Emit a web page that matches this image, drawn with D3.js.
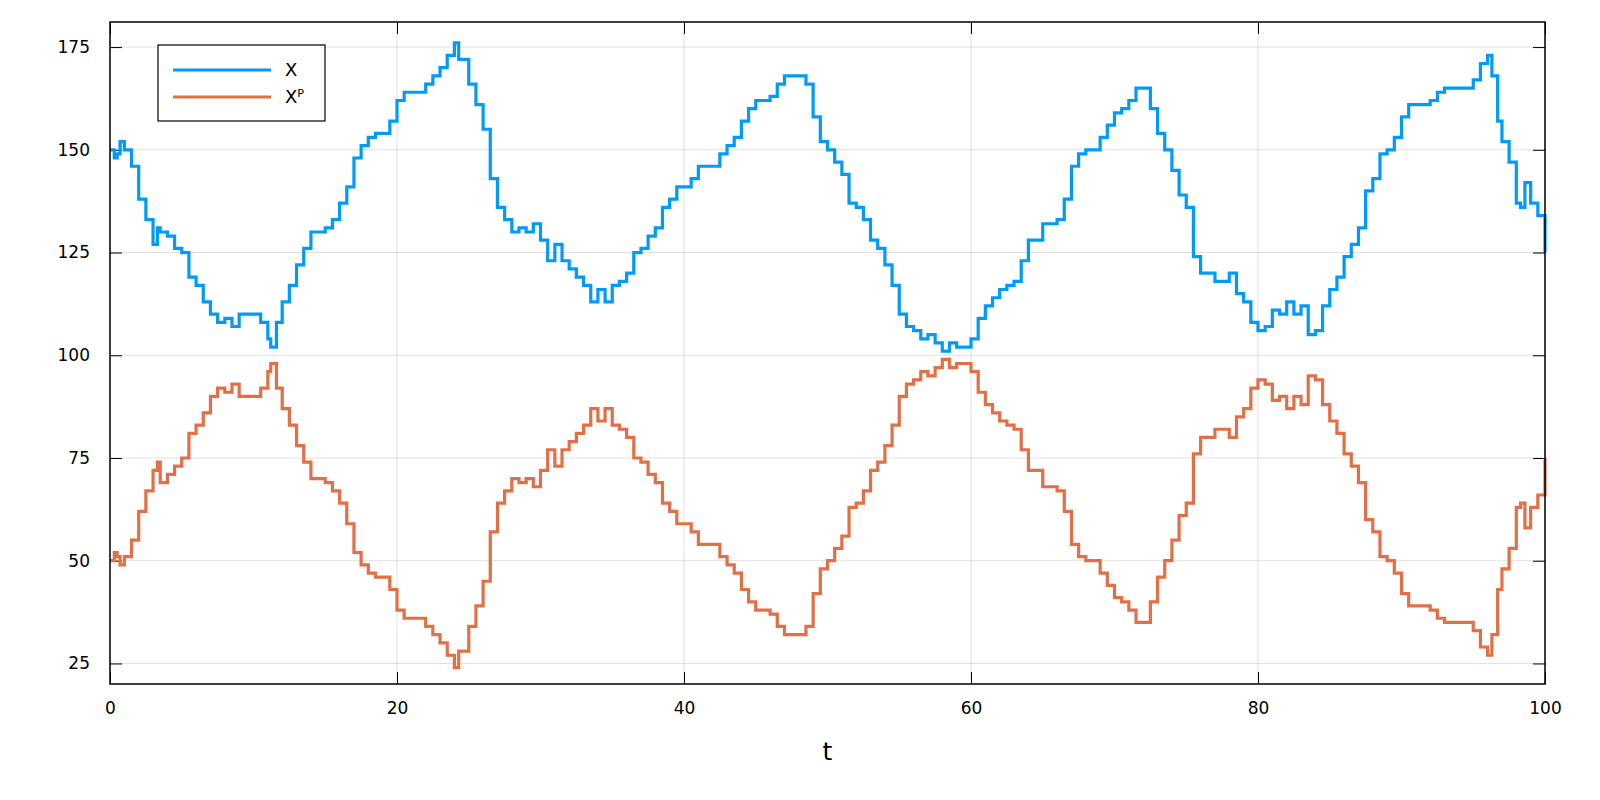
<!DOCTYPE html>
<html><head><meta charset="utf-8">
<script src="https://cdn.jsdelivr.net/npm/d3@7"></script>
<style>body{margin:0;background:#fff}text{font-family:"DejaVu Sans",sans-serif}</style>
</head><body><svg id="chart" width="1600" height="800"></svg>
<script>
const times = [0,0.3,0.5,0.7,1,1.5,2,2.5,3,3.3,3.5,4,4.5,5,5.5,6,6.5,7,7.5,8,8.5,9,10,10.5,11,11.2,11.6,12,12.5,13,13.5,14,15,15.5,16,16.5,17,17.5,18,18.5,19,19.5,20,20.5,21,22,22.5,23,23.5,24,24.3,25,25.5,26,26.5,27,27.5,28,28.5,29,29.5,30,30.5,31,31.5,32,32.5,33,33.5,34,34.5,35,35.5,36,36.5,37,37.5,38,38.5,39,39.5,40,40.5,41,42,42.5,43,43.5,44,44.5,45,46,46.5,47,48,48.5,49,49.5,50,50.5,51,51.5,52,52.5,53,53.5,54,54.5,55,55.5,56,56.5,57,57.5,58,58.5,59,59.5,60,60.5,61,61.5,62,62.5,63,63.5,64,64.5,65,66,66.5,67,67.5,68,69,69.5,70,70.5,71,71.5,72,72.5,73,73.5,74,74.5,75,75.5,76,76.5,77,77.5,78,78.5,79,79.5,80,80.5,81,81.5,82,82.5,83,83.5,84,84.5,85,85.5,86,86.5,87,87.5,88,88.5,89,89.5,90,90.5,91,92,92.5,93,94,95,95.5,96,96.3,96.7,97,97.5,98,98.3,98.6,99,99.5,100];
const seriesX = [150,148,149,152,150,146,138,133,127,131,130,129,126,125,119,117,113,110,108,109,107,110,110,108,104,102,108,113,117,122,126,130,131,133,137,141,148,151,153,154,154,157,162,164,164,166,168,170,173,176,172,166,161,155,143,136,133,130,131,130,132,128,123,127,123,121,119,117,113,116,113,117,118,120,125,126,129,131,136,138,141,141,143,146,146,149,151,153,157,160,162,163,166,168,168,166,158,152,150,147,144,137,136,133,128,126,122,117,110,107,106,104,105,103,101,103,102,102,104,109,112,114,116,117,118,123,128,128,132,133,138,146,149,150,153,156,159,160,162,165,165,160,154,150,145,139,136,124,120,120,118,118,120,115,113,108,106,107,111,110,113,110,112,105,106,112,116,119,124,127,131,140,143,149,150,153,158,161,161,162,164,165,165,167,171,173,168,157,152,147,137,136,142,137,134,125];
const seriesXP = [50,52,51,49,51,55,62,67,72,74,69,71,73,75,81,83,86,90,92,91,93,90,90,92,96,98,92,87,83,78,74,70,69,67,64,59,52,49,47,46,46,43,38,36,36,34,32,30,27,24,28,34,39,45,57,64,67,70,69,70,68,72,77,73,77,79,81,83,87,84,87,83,82,80,75,74,71,69,64,62,59,59,57,54,54,51,49,47,43,40,38,37,34,32,32,34,42,48,50,53,56,63,64,67,72,74,78,83,90,93,94,96,95,97,99,97,98,98,96,91,88,86,84,83,82,77,72,72,68,67,62,54,51,50,47,44,41,40,38,35,35,40,46,50,55,61,64,76,80,80,82,82,80,85,87,92,94,93,89,90,87,90,88,95,94,88,84,81,76,73,69,60,57,51,50,47,42,39,39,38,36,35,35,33,29,27,32,43,48,53,63,64,58,63,66,75];
const xTicks = [0,20,40,60,80,100];
const yTicks = [25,50,75,100,125,150,175];
const seriesNames = ["X","Xᴾ"];
const colors = ["#009AFA","#E26F46"];

const svg = d3.select('#chart');
const m = {l:110, r:1545, t:22, b:684};
const x = d3.scaleLinear().domain([0,100]).range([m.l,m.r]);
const y = d3.scaleLinear().domain([20,181.1]).range([m.b,m.t]);

// grid
svg.append('g').selectAll('line').data(xTicks).enter().append('line')
  .attr('x1',d=>x(d)).attr('x2',d=>x(d)).attr('y1',m.t).attr('y2',m.b)
  .attr('stroke','#000').attr('stroke-opacity',0.12);
svg.append('g').selectAll('line').data(yTicks).enter().append('line')
  .attr('y1',d=>y(d)).attr('y2',d=>y(d)).attr('x1',m.l).attr('x2',m.r)
  .attr('stroke','#000').attr('stroke-opacity',0.12);

// axes with inward ticks on all four sides
const tk = 12;
svg.append('g').attr('transform',`translate(0,${m.b})`)
  .call(d3.axisBottom(x).tickValues(xTicks).tickSizeInner(-tk).tickSizeOuter(0).tickPadding(18))
  .call(g=>g.select('.domain').remove());
svg.append('g').attr('transform',`translate(0,${m.t})`)
  .call(d3.axisTop(x).tickValues(xTicks).tickSizeInner(-tk).tickSizeOuter(0).tickFormat(''))
  .call(g=>g.select('.domain').remove());
svg.append('g').attr('transform',`translate(${m.l},0)`)
  .call(d3.axisLeft(y).tickValues(yTicks).tickSizeInner(-tk).tickSizeOuter(0).tickPadding(20))
  .call(g=>g.select('.domain').remove());
svg.append('g').attr('transform',`translate(${m.r},0)`)
  .call(d3.axisRight(y).tickValues(yTicks).tickSizeInner(-tk).tickSizeOuter(0).tickFormat(''))
  .call(g=>g.select('.domain').remove());
svg.selectAll('.tick text').style('font-size','17px').style('font-family','DejaVu Sans').attr('fill','#000');
svg.selectAll('.tick line').attr('stroke','#000');

// lines
const line = d3.line().x((d,i)=>x(times[i])).y(d=>y(d)).curve(d3.curveStepAfter);
[seriesX, seriesXP].forEach((s,k)=>{
  svg.append('path').datum(s).attr('d',line).attr('fill','none')
    .attr('stroke',colors[k]).attr('stroke-width',3.2);
});

// frame
svg.append('rect').attr('x',m.l).attr('y',m.t).attr('width',m.r-m.l).attr('height',m.b-m.t)
  .attr('fill','none').attr('stroke','#000').attr('stroke-width',1.5);

svg.append('text').attr('x',(m.l+m.r)/2).attr('y',760).attr('text-anchor','middle')
  .style('font-size','25px').text('t');

// legend
const lg = svg.append('g');
lg.append('rect').attr('x',158).attr('y',45).attr('width',167).attr('height',76)
  .attr('fill','#fff').attr('stroke','#000').attr('stroke-width',1.2);
seriesNames.forEach((n,k)=>{
  const yy = 70 + k*27;
  lg.append('line').attr('x1',173).attr('x2',271).attr('y1',yy).attr('y2',yy)
    .attr('stroke',colors[k]).attr('stroke-width',3.2);
  lg.append('text').attr('x',285).attr('y',yy+6).style('font-size','18px').text(n);
});
</script></body></html>
